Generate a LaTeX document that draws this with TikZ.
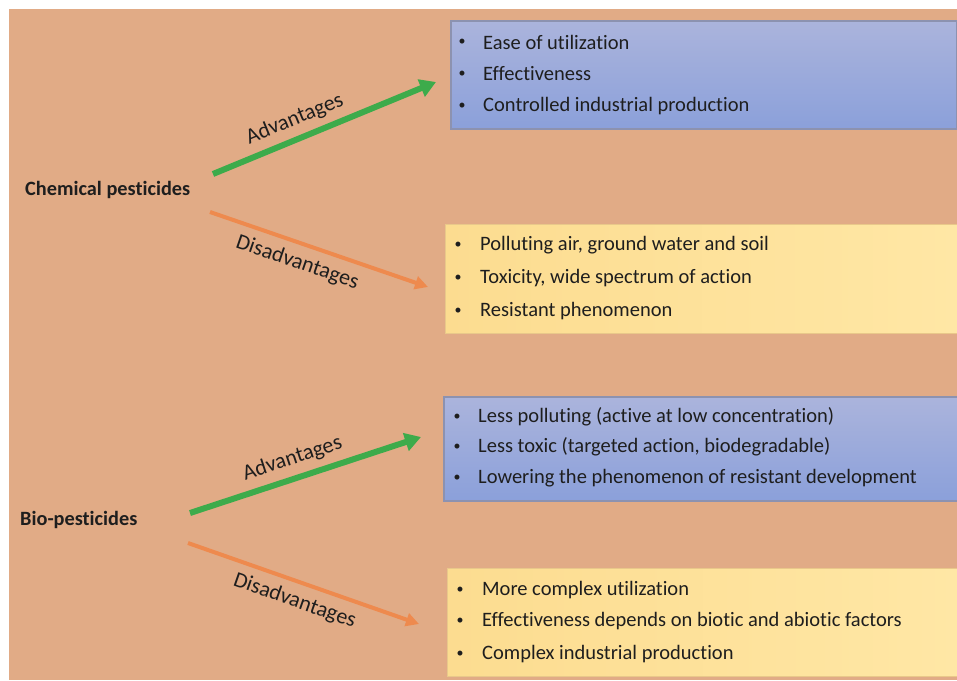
\documentclass[tikz,border=0pt]{standalone}
\usepackage{fontspec}
\setmainfont{Carlito}[Ligatures=NoCommon]
\usetikzlibrary{arrows.meta}
\definecolor{bg}{HTML}{E1AB86}
\definecolor{bluetop}{HTML}{ABB4DC}
\definecolor{bluebot}{HTML}{8BA0DA}
\definecolor{blueedge}{HTML}{8C92B0}
\definecolor{yelL}{HTML}{FCDC90}
\definecolor{yelR}{HTML}{FFE7A5}
\definecolor{yeledge}{HTML}{E9C88A}
\definecolor{arrgreen}{HTML}{3DAB4B}
\definecolor{arrorange}{HTML}{EE8A4E}
\definecolor{txt}{HTML}{1E1E1E}
\tikzset{
  bluebox/.style={rectangle, anchor=north west, inner sep=0pt, top color=bluetop, bottom color=bluebot, draw=blueedge, line width=1.5pt},
  yelbox/.style={rectangle, anchor=north west, inner sep=0pt, left color=yelL, right color=yelR, draw=yeledge, line width=1pt},
  bul/.style={anchor=center, inner sep=0pt, font=\fontsize{14}{16}\selectfont, text=txt},
  item/.style={anchor=west, inner sep=0pt, font=\fontsize{20.5}{23}\selectfont, text=txt},
  head/.style={anchor=west, inner sep=0pt, font=\fontsize{20.3}{23}\selectfont\bfseries, text=txt},
  lbl/.style={font=\fontsize{22}{24}\selectfont, text=txt, inner sep=2pt},
  garrow/.style={draw=arrgreen, line width=6pt, -{Triangle[length=16pt,width=18pt]}},
  oarrow/.style={draw=arrorange, line width=4pt, -{Triangle[length=13pt,width=13pt]}},
}
\begin{document}
\begin{tikzpicture}[x=1pt,y=-1pt]
\useasboundingbox (0,0) rectangle (957,680);
\fill[white] (0,0) rectangle (957,680);
\fill[bg] (9,9) rectangle (957,680);

% boxes
\node[bluebox, minimum width=506pt, minimum height=108pt] (b1) at (450,20) {};
\node[yelbox, minimum width=512pt, minimum height=109pt] (b2) at (445,224) {};
\node[bluebox, minimum width=514pt, minimum height=104pt] (b3) at (443,396) {};
\node[yelbox, minimum width=510pt, minimum height=108pt] (b4) at (447,568) {};

% box 1 text
\node[bul] (b1d1) at (462,42) {•};
\node[item] (b1t1) at (483,42) {Ease of utilization};
\node[bul] (b1d2) at (462,74) {•};
\node[item] (b1t2) at (483,74) {Effectiveness};
\node[bul] (b1d3) at (462,106) {•};
\node[item] (b1t3) at (483,106) {Controlled industrial production};

% box 2 text
\node[bul] (b2d1) at (458,245) {•};
\node[item] (b2t1) at (480,245) {Polluting air, ground water and soil};
\node[bul] (b2d2) at (458,278) {•};
\node[item] (b2t2) at (480,278) {Toxicity, wide spectrum of action};
\node[bul] (b2d3) at (458,311) {•};
\node[item] (b2t3) at (480,311) {Resistant phenomenon};

% box 3 text
\node[bul] (b3d1) at (457,417) {•};
\node[item] (b3t1) at (478,417) {Less polluting (active at low concentration)};
\node[bul] (b3d2) at (457,447) {•};
\node[item] (b3t2) at (478,447) {Less toxic (targeted action, biodegradable)};
\node[bul] (b3d3) at (457,478) {•};
\node[item] (b3t3) at (478,478) {Lowering the phenomenon of resistant development};

% box 4 text
\node[bul] (b4d1) at (460,590) {•};
\node[item] (b4t1) at (482,590) {More complex utilization};
\node[bul] (b4d2) at (460,621) {•};
\node[item] (b4t2) at (482,621) {Effectiveness depends on biotic and abiotic factors};
\node[bul] (b4d3) at (460,654) {•};
\node[item] (b4t3) at (482,654) {Complex industrial production};

% headings
\node[head] (chem) at (25,190) {Chemical pesticides};
\node[head] (bio) at (20,520) {Bio-pesticides};

% arrow endpoints
\coordinate (g1s) at (213,174);
\coordinate (g1e) at (436,82);
\coordinate (o1s) at (210,212);
\coordinate (o1e) at (428,287);
\coordinate (g2s) at (190,513);
\coordinate (g2e) at (421,437);
\coordinate (o2s) at (188,543);
\coordinate (o2e) at (419,624);

\draw[garrow] (g1s) -- (g1e) node[lbl, pos=0.40, sloped, above=5pt] (l1) {Advantages};
\draw[oarrow] (o1s) -- (o1e) node[lbl, pos=0.43, sloped, below=6pt] (l2) {Disadvantages};
\draw[garrow] (g2s) -- (g2e) node[lbl, pos=0.47, sloped, above=5pt] (l3) {Advantages};
\draw[oarrow] (o2s) -- (o2e) node[lbl, pos=0.49, sloped, below=6pt] (l4) {Disadvantages};
\end{tikzpicture}
\end{document}
